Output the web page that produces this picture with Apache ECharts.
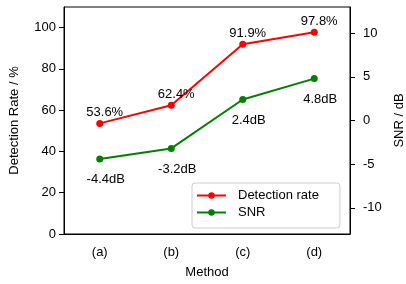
<!DOCTYPE html>
<html>
<head>
<meta charset="utf-8">
<script src="https://cdn.jsdelivr.net/npm/echarts@6/dist/echarts.min.js"></script>
<style>
  html, body { margin: 0; padding: 0; background: #fff; }
  #chart { width: 406px; height: 284px; }
</style>
</head>
<body>
<div id="chart"></div>
<script>
// 横轴：方法
const methods = ["(a)", "(b)", "(c)", "(d)"];
// 检测率 (%)
const detectionRate = [53.6, 62.4, 91.9, 97.8];
// 信噪比 (dB)
const snr = [-4.4, -3.2, 2.4, 4.8];
// 刻度
const rateTicks = [0, 20, 40, 60, 80, 100];
const snrTicks = [-10, -5, 0, 5, 10];

const black = "#000";
const font = "Liberation Sans";

let myChart = echarts.init(document.getElementById("chart"));

let opts = {
  animation: false,
  textStyle: { fontFamily: font, color: black },
  grid: {
    left: 64,
    right: 56,
    top: 7,
    bottom: 50,
    outerBoundsMode: "none",
    show: true,
    borderColor: black,
    borderWidth: 1
  },
  legend: {
    orient: "vertical",
    left: 192,
    top: 183,
    padding: [6, 21, 9, 4],
    itemGap: 4,
    itemWidth: 29,
    itemHeight: 8,
    borderColor: "#cccccc",
    borderWidth: 1,
    borderRadius: 3,
    backgroundColor: "rgba(255,255,255,0.8)",
    textStyle: { fontSize: 13, color: black, fontFamily: font, padding: [0, 0, 0, 7] },
    data: ["Detection rate", "SNR"]
  },
  xAxis: {
    type: "category",
    data: methods,
    boundaryGap: true,
    name: "Method",
    nameLocation: "middle",
    nameGap: 32,
    nameTextStyle: { fontSize: 13, color: black },
    axisLine: { lineStyle: { color: black, width: 1 } },
    axisTick: { alignWithLabel: true, length: 5, lineStyle: { color: black } },
    axisLabel: { fontSize: 13, color: black, margin: 12 },
    splitLine: { show: false }
  },
  yAxis: [
    {
      type: "value",
      min: 0,
      max: 110,
      position: "left",
      name: "Detection Rate / %",
      nameLocation: "middle",
      nameRotate: 90,
      nameGap: 43,
      nameTextStyle: { fontSize: 13, color: black },
      axisLine: { show: true, lineStyle: { color: black, width: 1 } },
      axisTick: { show: true, length: 5, lineStyle: { color: black }, customValues: rateTicks },
      axisLabel: { fontSize: 13, color: black, margin: 8, customValues: rateTicks },
      splitLine: { show: false }
    },
    {
      type: "value",
      min: -13,
      max: 13,
      position: "right",
      name: "SNR / dB",
      nameLocation: "middle",
      nameRotate: 90,
      nameGap: 41,
      nameTextStyle: { fontSize: 13, color: black },
      axisLine: { show: true, lineStyle: { color: black, width: 1 } },
      axisTick: { show: true, length: 5, lineStyle: { color: black }, customValues: snrTicks },
      axisLabel: { fontSize: 13, color: black, margin: 13, customValues: snrTicks },
      splitLine: { show: false }
    }
  ],
  series: [
    {
      name: "Detection rate",
      type: "line",
      yAxisIndex: 0,
      data: detectionRate,
      symbol: "circle",
      symbolSize: 7,
      color: "#ff0000",
      lineStyle: { width: 2, color: "#ff0000" },
      itemStyle: { color: "#ff0000" },
      label: {
        show: true,
        position: "top",
        distance: 1,
        offset: [5, 0],
        fontSize: 13,
        color: black,
        formatter: p => p.value.toFixed(1) + "%"
      }
    },
    {
      name: "SNR",
      type: "line",
      yAxisIndex: 1,
      data: snr,
      symbol: "circle",
      symbolSize: 7,
      color: "#008000",
      lineStyle: { width: 2, color: "#008000" },
      itemStyle: { color: "#008000" },
      label: {
        show: true,
        position: "bottom",
        distance: 11,
        offset: [6, 0],
        fontSize: 13,
        color: black,
        formatter: p => p.value.toFixed(1) + "dB"
      }
    }
  ]
};

myChart.setOption(opts);
</script>
</body>
</html>
